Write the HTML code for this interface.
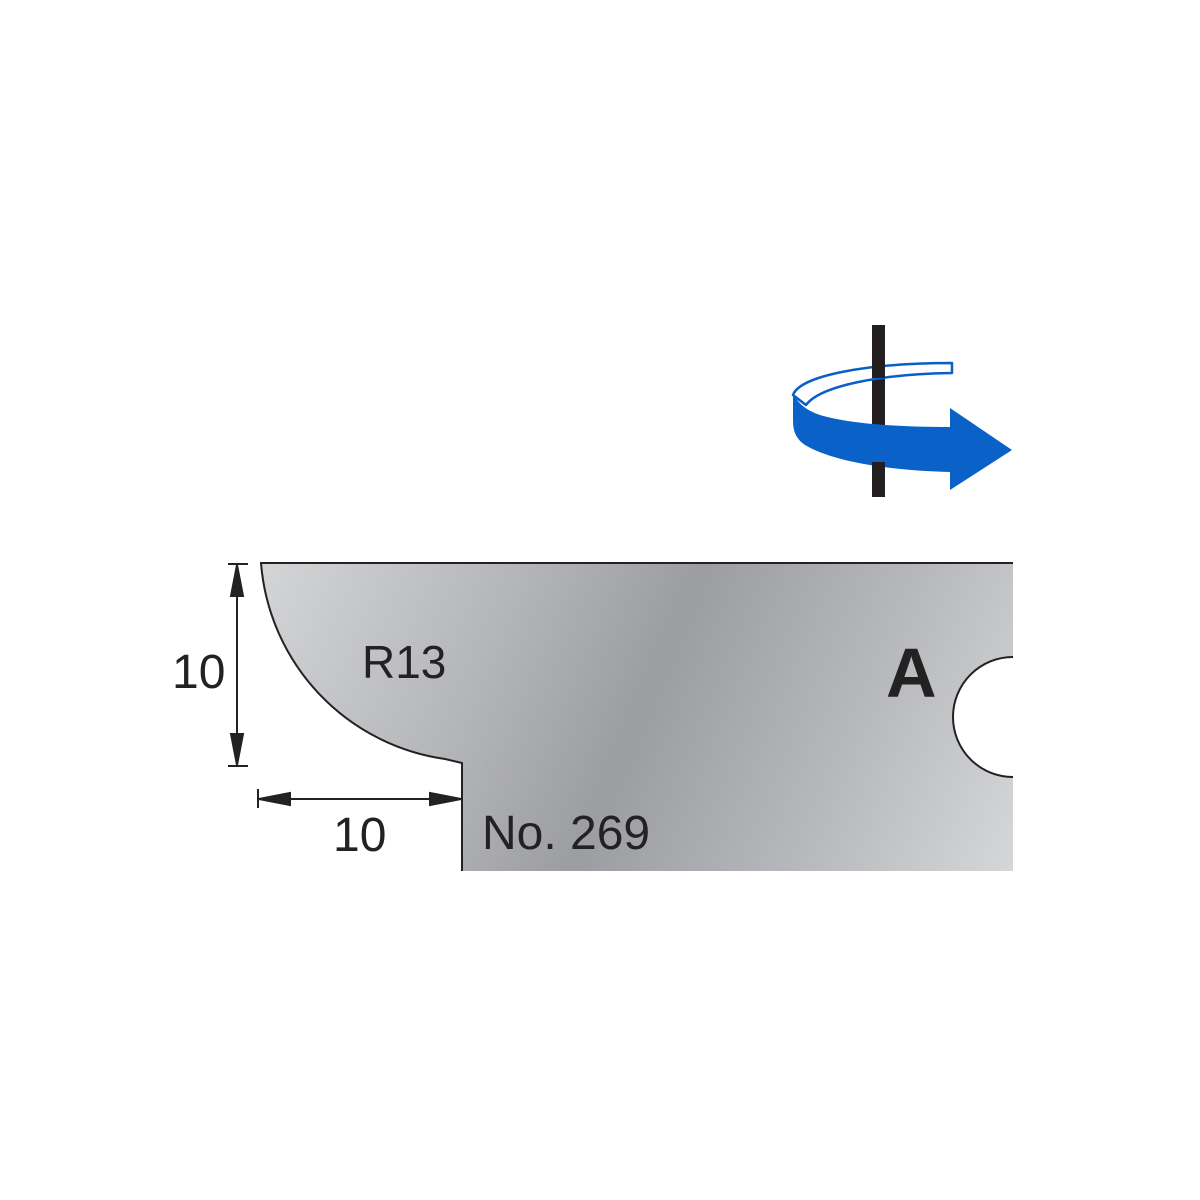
<!DOCTYPE html>
<html><head><meta charset="utf-8"><style>body{margin:0;background:#fff}svg{display:block}</style></head><body>
<svg width="1200" height="1200" viewBox="0 0 1200 1200" xmlns="http://www.w3.org/2000/svg">
<defs>
<linearGradient id="g" x1="260" y1="560" x2="1013" y2="880" gradientUnits="userSpaceOnUse">
<stop offset="0" stop-color="#d4d5d7"/>
<stop offset="0.3" stop-color="#b4b5b8"/>
<stop offset="0.5" stop-color="#9c9da0"/>
<stop offset="0.75" stop-color="#b7b8bb"/>
<stop offset="1" stop-color="#d6d7d9"/>
</linearGradient>
</defs>
<path d="M261,563 L1013,563 L1013,657 A60,60 0 0 0 1013,777 L1013,871 L462,871 L462,763 L445,759 A215,215 0 0 1 261,563 Z" fill="url(#g)" stroke="none"/>
<path d="M1013,563 L261,563 A215,215 0 0 0 445,759 L462,763 L462,871" fill="none" stroke="#222" stroke-width="2"/>
<path d="M1013,657 A60,60 0 0 0 1013,777" fill="none" stroke="#222" stroke-width="2"/>
<g stroke="#222" stroke-width="2" fill="#222">
<line x1="228" y1="564" x2="248" y2="564"/><line x1="228" y1="766" x2="248" y2="766"/>
<line x1="237" y1="580" x2="237" y2="750"/>
<polygon points="237,565 231,596 243,596"/><polygon points="237,765 231,734 243,734"/>
<line x1="258" y1="789" x2="258" y2="808"/>
<line x1="270" y1="799" x2="450" y2="799"/>
<polygon points="259,799 290,793 290,805"/><polygon points="461,799 430,793 430,805"/>
</g>
<g font-family="Liberation Sans, sans-serif" fill="#222">
<text x="172" y="688" font-size="48">10</text>
<text x="333" y="851" font-size="48">10</text>
<text x="362" y="678" font-size="46">R13</text>
<text x="482" y="849" font-size="48">No. 269</text>
<text x="886" y="697" font-size="70" font-weight="bold">A</text>
</g>
<rect x="872" y="325" width="13" height="172" fill="#231f20"/>
<path d="M793,395 C800,375 870,363 952,363 L952,373 C880,374 820,386 806,405 Z" fill="#fff" stroke="#0a5fc4" stroke-width="2.5" stroke-linejoin="round"/>
<rect x="872" y="360" width="13" height="18" fill="#231f20"/>
<path d="M793,393 C797,402 805,410 820,415 C850,424 900,427 950,427 L950,408 L1012,450 L950,490 L950,472 C880,470 830,460 805,445 C795,438 793,430 793,420 Z" fill="#0a62c9"/>
<rect x="872" y="462" width="13" height="35" fill="#231f20"/>
</svg>
</body></html>
